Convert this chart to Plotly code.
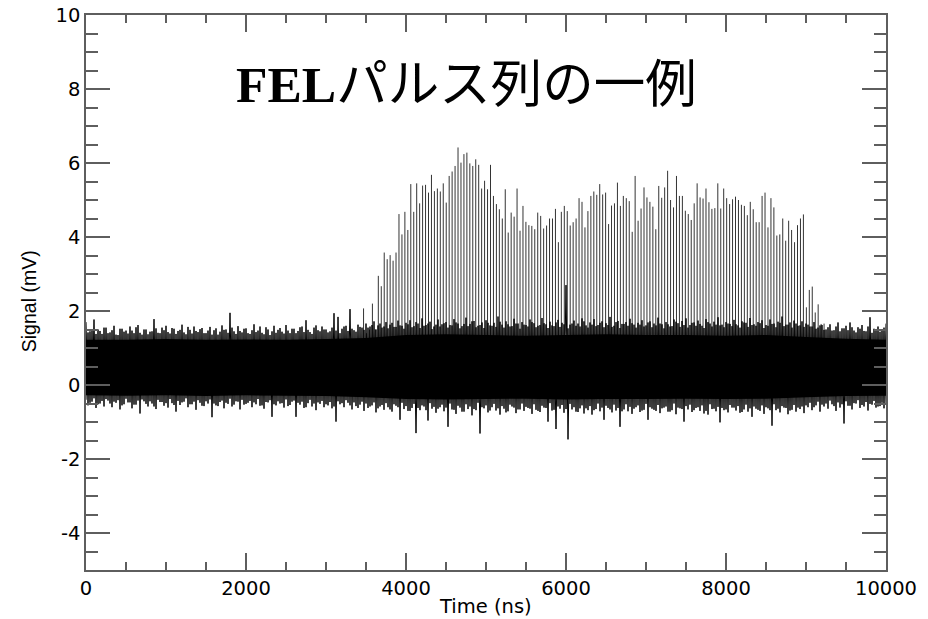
import numpy as np
import plotly.graph_objects as go

# ---- FEL macro-pulse: peak height of each micro-pulse (mV) ----
pulse_period_ns = 36.9
pulse_start_ns = 3469.5
pulse_peaks = [
    2.07, 1.40, 1.50, 2.20, 1.50,
    2.95, 2.67, 3.58, 3.40, 3.51, 3.36, 3.58, 4.62, 4.07, 4.68,
    4.19, 5.43, 4.68, 5.45, 4.91, 5.39, 5.41, 5.20, 5.68, 5.24,
    5.31, 5.23, 5.45, 4.93, 5.65, 5.77, 5.92, 6.42, 6.01, 6.24,
    6.28, 5.99, 5.92, 6.10, 5.95, 5.31, 5.52, 5.29, 5.95, 5.11,
    4.89, 4.75, 4.50, 5.29, 4.12, 4.66, 4.55, 5.31, 4.17, 4.84,
    4.41, 4.32, 4.30, 4.21, 4.66,
    4.57, 4.23, 4.31, 4.50, 4.50, 4.76, 3.86, 4.68, 4.84, 4.70,
    4.31, 4.40, 4.50, 5.05, 4.95, 4.26, 4.70, 5.11, 5.23, 5.14,
    5.43, 5.15, 5.20, 4.35, 4.85, 4.91, 5.47, 4.84, 5.11, 5.05,
    4.97, 4.14, 5.65, 4.44, 4.77, 5.34, 5.07, 4.95, 4.82, 4.21,
    5.38, 5.06, 5.34, 5.79, 5.00, 4.80, 5.65, 5.11, 5.11, 4.71,
    4.62, 4.46, 4.91, 5.45,
    5.07, 5.04, 5.31, 4.94, 4.76, 4.78, 5.45, 4.77, 5.31, 5.05,
    4.89, 5.02, 5.09, 5.00, 4.87, 4.84, 4.59, 4.95, 4.75, 4.40,
    4.40, 5.11, 5.20, 4.26, 5.05, 4.80, 4.04, 4.07, 4.50, 3.90,
    4.44, 4.19, 3.86, 4.32, 4.50, 4.61,
    2.10, 2.57, 2.66, 1.96, 2.18, 1.65, 1.66,
]
pulse_base = 0.5

# ---- baseline noise: solid core band (every 500 ns) ----
core_t = list(range(0, 10001, 500))
core_hi = [1.22, 1.22, 1.24, 1.22, 1.23, 1.22, 1.24, 1.27, 1.35, 1.37, 1.35,
           1.33, 1.35, 1.37, 1.35, 1.35, 1.33, 1.35, 1.30, 1.25, 1.22]
core_lo = [-0.28, -0.29, -0.28, -0.30, -0.28, -0.29, -0.30, -0.33, -0.38, -0.39, -0.38,
           -0.37, -0.39, -0.38, -0.38, -0.37, -0.38, -0.37, -0.33, -0.30, -0.29]

# ---- noise spike tips, set A: upper every 50 ns from 0, lower every 50 ns from 25 ----
noise_up = [
    1.70, 1.45, 1.77, 1.50, 1.38, 1.55, 1.42, 1.60, 1.35, 1.52,
    1.47, 1.58, 1.40, 1.62, 1.36, 1.50, 1.44, 1.78, 1.41, 1.55,
    1.60, 1.39, 1.52, 1.46, 1.63, 1.37, 1.49, 1.58, 1.43, 1.54,
    1.40, 1.57, 1.48, 1.36, 1.61, 1.50, 1.95, 1.45, 1.59, 1.42,
    1.53, 1.38, 1.64, 1.47, 1.41, 1.56, 1.35, 1.60, 1.49, 1.44,
    1.62, 1.40, 1.52, 1.46, 1.58, 1.75, 1.43, 1.55, 1.48, 1.58,
    1.50, 1.45, 1.94, 1.84, 1.52, 1.60, 2.05, 1.48, 1.63, 1.55,
    1.66, 1.58, 1.72, 1.61, 1.55, 1.70, 1.63, 1.57, 1.74, 1.60,
    1.68, 1.75, 1.59, 1.66, 1.80, 1.62, 1.71, 1.58, 1.77, 1.64,
    1.70, 1.62, 1.78, 1.66, 1.59, 1.82, 1.65, 1.73, 1.60, 1.69,
    1.75, 1.61, 1.68, 1.85, 1.63, 1.72, 1.58, 1.79, 1.66, 1.70,
    1.62, 1.77, 1.67, 1.60, 1.81, 1.64, 1.71, 1.59, 1.76, 1.68,
    2.70, 1.63, 1.74, 1.66, 1.80, 1.61, 1.69, 1.78, 1.62, 1.72,
    1.67, 1.84, 1.60, 1.73, 1.65, 1.70, 1.79, 1.63, 1.68, 1.75,
    1.61, 1.72, 1.66, 1.82, 1.64, 1.70, 1.58, 1.77, 1.67, 1.73,
    1.80, 1.62, 1.69, 1.74, 1.60, 1.78, 1.66, 1.71, 1.83, 1.63,
    1.70, 1.65, 1.76, 1.61, 1.72, 1.68, 1.81, 1.64, 1.70, 1.75,
    1.62, 1.77, 1.66, 1.71, 1.85, 1.63, 1.69, 1.74, 1.60, 1.72,
    1.66, 1.58, 1.70, 1.55, 1.62, 1.50, 1.64, 1.48, 1.69, 1.53,
    1.60, 1.69, 1.47, 1.56, 1.62, 1.45, 1.83, 1.52, 1.58, 1.49,
    1.66,
]
noise_lo = [
    -0.55, -0.45, -0.62, -0.50, -0.58, -0.42, -0.60, -0.48, -0.66, -0.52,
    -0.47, -0.63, -0.53, -0.77, -0.44, -0.58, -0.50, -0.65, -0.46, -0.56,
    -0.61, -0.49, -0.72, -0.54, -0.45, -0.60, -0.52, -0.67, -0.48, -0.57,
    -0.50, -0.87, -0.55, -0.46, -0.63, -0.51, -0.58, -0.44, -0.66, -0.53,
    -0.48, -0.60, -0.52, -0.56, -0.64, -0.47, -0.86, -0.55, -0.50, -0.61,
    -0.57, -0.45, -0.86, -0.53, -0.62, -0.49, -0.58, -0.68, -0.51, -0.60,
    -0.55, -0.63, -0.99, -0.52, -0.60, -0.48, -0.66, -0.57, -0.53, -0.70,
    -0.62, -0.55, -0.74, -0.58, -0.67, -0.60, -0.72, -0.56, -0.94, -0.65,
    -0.70, -0.62, -1.30, -0.68, -0.58, -0.96, -0.64, -0.75, -0.60, -0.71,
    -1.13, -0.66, -0.78, -0.61, -0.72, -0.65, -0.82, -0.68, -1.31, -0.63,
    -0.74, -0.60, -0.69, -0.80, -0.64, -0.71, -0.58, -0.76, -0.66, -0.70,
    -0.62, -0.78, -0.67, -0.73, -0.61, -0.99, -0.69, -1.19, -0.64, -0.75,
    -1.47, -0.66, -0.72, -0.63, -0.77, -0.68, -0.80, -0.65, -0.71, -0.94,
    -0.62, -0.74, -0.69, -1.13, -0.66, -0.71, -0.78, -0.60, -0.73, -0.67,
    -0.94, -0.64, -0.70, -0.76, -0.61, -0.72, -0.68, -0.79, -0.63, -0.99,
    -0.66, -0.73, -0.62, -0.70, -0.77, -0.80, -0.65, -0.71, -1.01, -0.68,
    -0.74, -0.61, -0.69, -0.75, -0.66, -0.72, -0.86, -0.64, -0.70, -0.78,
    -0.63, -1.10, -0.68, -0.74, -0.61, -0.79, -0.67, -0.72, -0.65, -0.76,
    -0.60, -0.68, -0.55, -0.72, -0.58, -0.64, -0.52, -0.70, -0.61, -1.04,
    -0.56, -0.66, -0.50, -0.62, -0.58, -0.69, -0.53, -0.61, -0.57, -0.63,
]

# ---- noise spike tips, set B: upper every 50 ns from 25, lower every 50 ns from 0 ----
noise_up_b = [
    1.42, 1.50, 1.38, 1.46, 1.55, 1.40, 1.48, 1.36, 1.52, 1.44,
    1.39, 1.47, 1.56, 1.41, 1.50, 1.37, 1.45, 1.53, 1.40, 1.48,
    1.43, 1.54, 1.38, 1.49, 1.42, 1.57, 1.39, 1.46, 1.51, 1.40,
    1.47, 1.36, 1.53, 1.44, 1.49, 1.41, 1.55, 1.38, 1.46, 1.52,
    1.40, 1.48, 1.43, 1.58, 1.37, 1.50, 1.45, 1.41, 1.54, 1.39,
    1.47, 1.52, 1.40, 1.56, 1.43, 1.49, 1.38, 1.61, 1.45, 1.50,
    1.42, 1.55, 1.47, 1.40, 1.58, 1.46, 1.52, 1.44, 1.57, 1.49,
    1.55, 1.62, 1.50, 1.66, 1.58, 1.53, 1.68, 1.57, 1.61, 1.52,
    1.64, 1.56, 1.70, 1.54, 1.60, 1.66, 1.51, 1.63, 1.58, 1.67,
    1.55, 1.61, 1.69, 1.53, 1.65, 1.59, 1.72, 1.56, 1.62, 1.54,
    1.68, 1.60, 1.57, 1.71, 1.55, 1.64, 1.59, 1.66, 1.52, 1.63,
    1.58, 1.70, 1.56, 1.62, 1.67, 1.54, 1.61, 1.69, 1.57, 1.64,
    1.53, 1.66, 1.60, 1.58, 1.72, 1.55, 1.63, 1.59, 1.68, 1.56,
    1.62, 1.57, 1.70, 1.54, 1.65, 1.60, 1.67, 1.55, 1.63, 1.58,
    1.69, 1.56, 1.61, 1.66, 1.53, 1.64, 1.59, 1.71, 1.57, 1.62,
    1.55, 1.68, 1.60, 1.65, 1.54, 1.70, 1.58, 1.63, 1.61, 1.56,
    1.66, 1.59, 1.64, 1.55, 1.69, 1.57, 1.62, 1.60, 1.67, 1.54,
    1.60, 1.65, 1.56, 1.68, 1.59, 1.63, 1.55, 1.66, 1.61, 1.57,
    1.63, 1.58, 1.52, 1.61, 1.49, 1.56, 1.47, 1.58, 1.45, 1.53,
    1.48, 1.56, 1.42, 1.52, 1.46, 1.58, 1.41, 1.50, 1.44, 1.55,
]
noise_lo_b = [
    -0.40, -0.48, -0.36, -0.52, -0.43, -0.38, -0.50, -0.45, -0.41, -0.55,
    -0.37, -0.47, -0.53, -0.42, -0.39, -0.51, -0.44, -0.58, -0.40, -0.46,
    -0.49, -0.38, -0.54, -0.43, -0.47, -0.36, -0.52, -0.45, -0.41, -0.56,
    -0.44, -0.39, -0.50, -0.57, -0.42, -0.48, -0.37, -0.53, -0.45, -0.40,
    -0.51, -0.43, -0.47, -0.38, -0.55, -0.46, -0.41, -0.52, -0.44, -0.49,
    -0.39, -0.54, -0.42, -0.48, -0.45, -0.60, -0.40, -0.50, -0.47, -0.43,
    -0.52, -0.46, -0.58, -0.44, -0.49, -0.41, -0.55, -0.47, -0.62, -0.45,
    -0.50, -0.58, -0.47, -0.63, -0.54, -0.49, -0.66, -0.52, -0.60, -0.48,
    -0.57, -0.70, -0.51, -0.62, -0.55, -0.68, -0.49, -0.59, -0.64, -0.53,
    -0.61, -0.50, -0.67, -0.56, -0.72, -0.52, -0.58, -0.65, -0.48, -0.60,
    -0.55, -0.69, -0.51, -0.63, -0.57, -0.74, -0.53, -0.61, -0.66, -0.50,
    -0.59, -0.64, -0.52, -0.70, -0.56, -0.62, -0.49, -0.67, -0.58, -0.54,
    -0.65, -0.51, -0.60, -0.73, -0.55, -0.63, -0.57, -0.68, -0.50, -0.61,
    -0.56, -0.66, -0.53, -0.62, -0.71, -0.52, -0.59, -0.64, -0.55, -0.69,
    -0.51, -0.60, -0.67, -0.54, -0.63, -0.58, -0.72, -0.50, -0.61, -0.65,
    -0.57, -0.53, -0.68, -0.60, -0.55, -0.70, -0.52, -0.64, -0.59, -0.62,
    -0.66, -0.54, -0.61, -0.57, -0.73, -0.53, -0.63, -0.58, -0.67, -0.55,
    -0.60, -0.68, -0.52, -0.64, -0.57, -0.62, -0.69, -0.54, -0.61, -0.58,
    -0.55, -0.48, -0.60, -0.45, -0.53, -0.50, -0.42, -0.57, -0.47, -0.52,
    -0.44, -0.56, -0.49, -0.41, -0.54, -0.46, -0.51, -0.43, -0.58, -0.48,
    -0.50,
]

x_tick_vals = [0, 2000, 4000, 6000, 8000, 10000]
x_tick_text = ["0", "2000", "4000", "6000", "8000", "10000"]
y_tick_vals = [-4, -2, 0, 2, 4, 6, 8, 10]
y_tick_text = ["-4", "-2", "0", "2", "4", "6", "8", "10"]

title_text = "<b><span style='font-family:Liberation Serif'>FEL</span></b>パルス列の一例"
x_title = "Time (ns)"
y_title = "Signal (mV)"


def zigzag(t_a, v_a, t_b, v_b):
    """Interleave two tip sequences into one continuous trace, ordered in time."""
    pts = sorted(list(zip(t_a, v_a)) + list(zip(t_b, v_b)), key=lambda p: p[0])
    return [p[0] for p in pts], [p[1] for p in pts]


t_up = np.arange(len(noise_up)) * 50.0
t_lo = np.arange(len(noise_lo)) * 50.0 + 25.0
za_x, za_y = zigzag(t_up, noise_up, t_lo, noise_lo)

t_up_b = np.arange(len(noise_up_b)) * 50.0 + 25.0
t_lo_b = np.arange(len(noise_lo_b)) * 50.0
zb_x, zb_y = zigzag(t_up_b, noise_up_b, t_lo_b, noise_lo_b)

pulse_t = pulse_start_ns + np.arange(len(pulse_peaks)) * pulse_period_ns
px, py = [], []
for t, p in zip(pulse_t, pulse_peaks):
    px += [t, t, None]
    py += [pulse_base, p, None]

fig = go.Figure()
fig.add_trace(go.Scatter(x=core_t + core_t[::-1], y=core_hi + core_lo[::-1],
                         fill="toself", fillcolor="black", mode="none",
                         hoverinfo="skip", showlegend=False))
for zx, zy in ((zb_x, zb_y), (za_x, za_y)):
    fig.add_trace(go.Scatter(x=zx, y=zy, mode="lines",
                             line=dict(color="black", width=1),
                             hoverinfo="skip", showlegend=False))
fig.add_trace(go.Scatter(x=px, y=py, mode="lines",
                         line=dict(color="rgba(0,0,0,0.8)", width=1),
                         hoverinfo="skip", showlegend=False))

axis_col = "#5e5e5e"
tick_font = dict(family="DejaVu Sans, Verdana, sans-serif", size=19.5, color="black")

fig.update_xaxes(range=[0, 10000], showgrid=False, zeroline=False, automargin=False,
                 showline=True, linecolor=axis_col, linewidth=1.5, mirror="ticks",
                 ticks="inside", ticklen=17, tickwidth=1.5, tickcolor=axis_col,
                 tickmode="array", tickvals=x_tick_vals, ticktext=x_tick_text,
                 tickfont=tick_font,
                 minor=dict(dtick=500, tick0=0, ticks="inside", ticklen=8,
                            tickwidth=1.5, tickcolor=axis_col, showgrid=False))
fig.update_yaxes(range=[-5, 10], showgrid=False, zeroline=False, automargin=False,
                 showline=True, linecolor=axis_col, linewidth=1.5, mirror="ticks",
                 ticks="inside", ticklen=24, tickwidth=1.5, tickcolor=axis_col,
                 tickmode="array", tickvals=y_tick_vals, ticktext=y_tick_text,
                 tickfont=tick_font,
                 minor=dict(dtick=0.5, tick0=0, ticks="inside", ticklen=12,
                            tickwidth=1.5, tickcolor=axis_col, showgrid=False))

fig.add_annotation(x=4762, y=8.27, xref="x", yref="y", text=title_text,
                   showarrow=False, xanchor="center", yanchor="middle",
                   font=dict(family="Noto Sans CJK JP", size=51.5, color="black"))
fig.add_annotation(x=0.499, y=-0.065, xref="paper", yref="paper", text=x_title,
                   showarrow=False, xanchor="center", yanchor="middle",
                   font=dict(family="DejaVu Sans, Verdana, sans-serif", size=19.5, color="black"))
fig.add_annotation(x=-0.072, y=0.485, xref="paper", yref="paper", text=y_title,
                   showarrow=False, xanchor="center", yanchor="middle", textangle=-90,
                   font=dict(family="Liberation Sans, Arial, sans-serif", size=19.5, color="black"))

fig.update_layout(width=928, height=619, margin=dict(l=86, r=42, t=15, b=49),
                  paper_bgcolor="white", plot_bgcolor="white", showlegend=False)

fig.write_html("out.html", config={"displayModeBar": False})
